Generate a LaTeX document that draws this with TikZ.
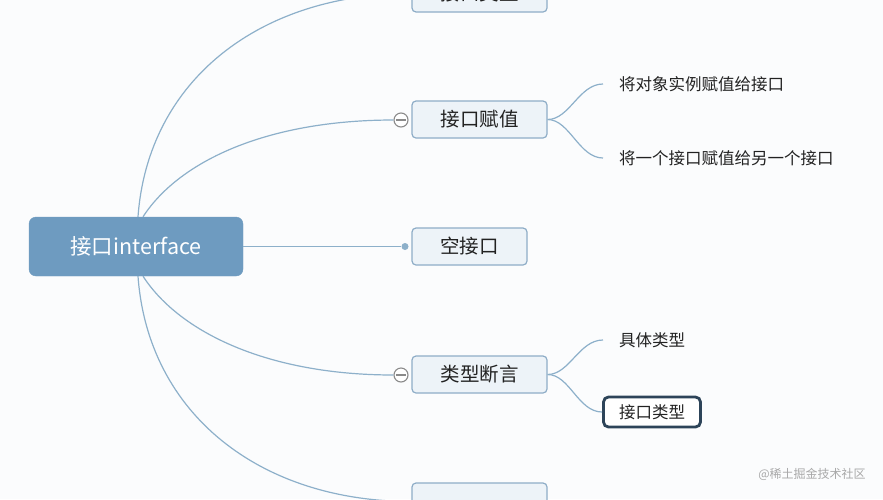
\documentclass[tikz,border=0pt]{standalone}
\usepackage{fontspec}
\setmainfont{Noto Sans CJK SC}
\definecolor{bgcol}{HTML}{FBFCFD}
\definecolor{rootfill}{HTML}{6E9BC0}
\definecolor{linecol}{HTML}{8DB0CA}
\definecolor{topicfill}{HTML}{EDF3F8}
\definecolor{topicdraw}{HTML}{8EADC7}
\definecolor{seldraw}{HTML}{2D4459}
\definecolor{txt}{HTML}{222222}
\definecolor{wm}{HTML}{A8A8A8}
\definecolor{collapsecol}{HTML}{8A8A8A}
\tikzset{
  rootbox/.style={draw=rootfill, fill=rootfill, rounded corners=7pt, minimum width=214pt, minimum height=59pt, inner sep=0pt, text=white, font=\fontsize{21.5}{25}\selectfont},
  topicbox/.style={draw=topicdraw, fill=topicfill, line width=1.2pt, rounded corners=4pt, minimum width=135pt, minimum height=37pt, inner sep=0pt, text=txt, font=\fontsize{19.5}{23}\selectfont},
  leafnode/.style={anchor=west, inner sep=0pt, text=txt, font=\fontsize{16.5}{20}\selectfont},
  selbox/.style={draw=seldraw, fill=white, line width=2.8pt, rounded corners=5pt, minimum width=97pt, minimum height=30pt, inner sep=0pt, text=txt, font=\fontsize{16.5}{20}\selectfont},
  branch/.style={draw=linecol, line width=1.2pt},
  collapsenode/.style={circle, draw=collapsecol, fill=white, line width=1.1pt, minimum size=14pt, inner sep=0pt},
  dotnode/.style={circle, fill=linecol, minimum size=7pt, inner sep=0pt},
  wmnode/.style={text=wm, inner sep=0pt, font=\fontsize{12}{14}\selectfont}
}
\begin{document}
\begin{tikzpicture}[x=1pt,y=-1pt]
\useasboundingbox (0,0) rectangle (883,499);
\fill[bgcol] (0,0) rectangle (883,499);
\begin{scope}
\clip (0,0) rectangle (883,499);
% nodes
\node[rootbox] (root) at (136,246.5) {接口interface};
\node[topicbox] (t1) at (479.5,-6.5) {接口类型};
\node[topicbox] (t2) at (479.5,119.5) {接口赋值};
\node[topicbox, minimum width=115pt] (t3) at (469.5,246.5) {空接口};
\node[topicbox] (t4) at (479.5,374.5) {类型断言};
\node[topicbox] (t5) at (479.5,501.5) {};
\node[collapsenode] (c2) at (401,120) {};
\node[collapsenode] (c4) at (401,375) {};
\node[dotnode] (d3) at (405,246.5) {};
\node[leafnode] (l1) at (619,84) {将对象实例赋值给接口};
\node[leafnode] (l2) at (619,158) {将一个接口赋值给另一个接口};
\node[leafnode] (l3) at (619,340) {具体类型};
\node[selbox] (l4) at (652,412) {接口类型};
\node[wmnode] (wm) at (812,474) {@稀土掘金技术社区};
% minus signs
\draw[collapsecol, line width=1.1pt] ([xshift=3pt]c2.west) -- ([xshift=-3pt]c2.east);
\draw[collapsecol, line width=1.1pt] ([xshift=3pt]c4.west) -- ([xshift=-3pt]c4.east);
% connectors from root
\draw[branch] ([xshift=2pt]root.north) .. controls +(10,-137) and +(-151,0) .. (t1.west);
\draw[branch] ([xshift=7pt]root.north) .. controls +(37,-57) and +(-124,0) .. (c2.west);
\draw[branch] (root.east) -- (d3);
\draw[branch] ([xshift=7pt]root.south) .. controls +(37,57) and +(-124,0) .. (c4.west);
\draw[branch] ([xshift=2pt]root.south) .. controls +(10,138) and +(-151,0) .. (t5.west);
% sub connectors
\draw[branch] (t2.east) .. controls +(22,0) and +(-24,0) .. ([xshift=-16pt]l1.west);
\draw[branch] (t2.east) .. controls +(22,0) and +(-24,0) .. ([xshift=-16pt]l2.west);
\draw[branch] (t4.east) .. controls +(22,0) and +(-24,0) .. ([xshift=-16pt]l3.west);
\draw[branch] (t4.east) .. controls +(22,0) and +(-24,0) .. (l4.west);
\end{scope}
\end{tikzpicture}
\end{document}
